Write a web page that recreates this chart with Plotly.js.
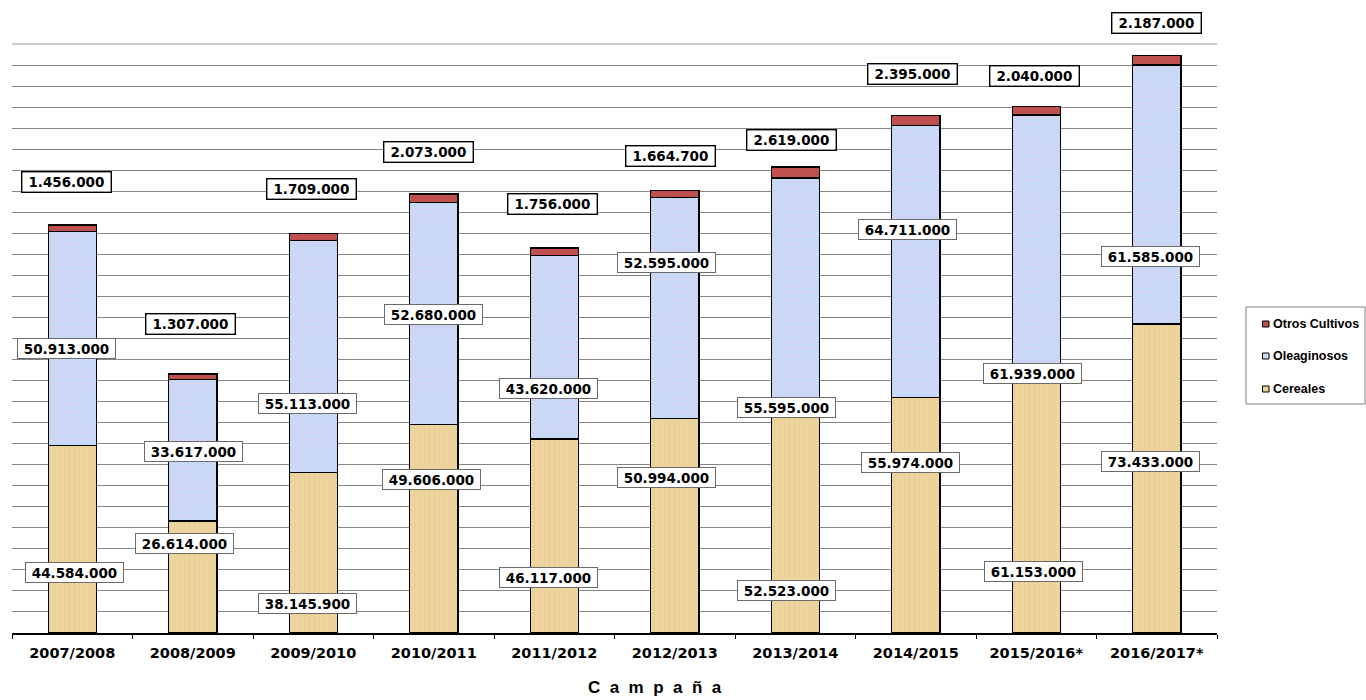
<!DOCTYPE html>
<html>
<head>
<meta charset="utf-8">
<script src="https://cdn.plot.ly/plotly-3.0.1.min.js"></script>
<style>html,body{margin:0;padding:0;background:#fff;}#chart{width:1366px;height:700px;}</style>
</head>
<body>
<div id="chart"></div>
<script>
// ---- data ----
var campanas = ["2007/2008","2008/2009","2009/2010","2010/2011","2011/2012","2012/2013","2013/2014","2014/2015","2015/2016*","2016/2017*"];
var cereales = [44584000, 26614000, 38145900, 49606000, 46117000, 50994000, 52523000, 55974000, 61153000, 73433000];
var oleaginosos = [50913000, 33617000, 55113000, 52680000, 43620000, 52595000, 55595000, 64711000, 61939000, 61585000];
var otros = [1456000, 1307000, 1709000, 2073000, 1756000, 1664700, 2619000, 2395000, 2040000, 2187000];
var seriesNames = ["Cereales", "Oleaginosos", "Otros Cultivos"];

// ---- label placement (layout: height in millions on the value scale + pixel x shift) ----
var labelYOtros = [107.3, 73.4, 105.5, 114.3, 102.0, 113.3, 117.1, 132.9, 132.5, 145.1];
var labelYOlea  = [67.7, 43.1, 54.5, 75.8, 58.0, 88.0, 53.5, 95.9, 61.6, 89.6];
var labelYCer   = [14.3, 21.2, 7.1, 36.4, 13.3, 37.0, 10.2, 40.5, 14.5, 40.8];
var shiftOtros = [-5.7, -1.9, -1.4, -5.4, -1.7, -4.4, -3.9, -3.2, -1.9, 0];
var shiftOlea  = [-5.7, 0.3, -6, 0.1, -5.7, -7.9, -8.4, -8.7, -3.5, -6.2];
var shiftCer   = [2.5, -7.9, -6.2, -2.7, -6.2, -7.9, -8.4, -5.5, -2.4, -6.5];

var Y_MAX = 140e6;
var colors = {cer: "#ECD49C", olea: "#C8D9F5", otros: "#C0504D"};

function fmt(v) {
  var s = Math.round(v).toString();
  return s.replace(/\B(?=(\d{3})+(?!\d))/g, ".");
}

var barLine = {color: "#000000", width: 1.3};
var traces = [
  {type: "bar", name: seriesNames[0], x: campanas, y: cereales,
   marker: {color: colors.cer, line: barLine, pattern: {shape: "|", fillmode: "overlay", fgcolor: "#DCC08A", size: 5, solidity: 0.12}}},
  {type: "bar", name: seriesNames[1], x: campanas, y: oleaginosos,
   marker: {color: colors.olea, line: barLine, pattern: {shape: ".", fillmode: "overlay", fgcolor: "#DCCDF0", size: 7, solidity: 0.3}}},
  {type: "bar", name: seriesNames[2], x: campanas, y: otros, marker: {color: colors.otros, line: barLine}}
];

var L = 12, R = 1217, T = 44, B = 633;
function pxX(px) { return (px - L) / (R - L); }
function pxY(py) { return (B - py) / (B - T); }

var annotations = [];
function addLabels(vals, ys, shifts, w, bc, bw) {
  for (var i = 0; i < campanas.length; i++) {
    annotations.push({
      x: campanas[i], xref: "x", xshift: shifts[i], xanchor: "center",
      y: ys[i] * 1e6 / Y_MAX, yref: "paper", yanchor: "middle",
      text: fmt(vals[i]), showarrow: false,
      font: {family: "DejaVu Sans, Verdana, sans-serif", size: 13.5, color: "#000", weight: "bold"},
      bgcolor: "#ffffff", bordercolor: bc, borderwidth: bw, borderpad: 2,
      width: w, height: 15, align: "center", valign: "middle"
    });
  }
}
addLabels(otros, labelYOtros, shiftOtros, 84, "#000000", 1.4);
addLabels(oleaginosos, labelYOlea, shiftOlea, 93, "#6a6a6a", 1);
addLabels(cereales, labelYCer, shiftCer, 93, "#6a6a6a", 1);

// axis title
annotations.push({
  xref: "paper", yref: "paper", x: pxX(655), y: pxY(687), xanchor: "center", yanchor: "middle",
  text: "C\u00a0 a\u00a0 m\u00a0 p\u00a0 a\u00a0 ñ\u00a0 a", showarrow: false,
  font: {family: "Liberation Sans, Arial, sans-serif", size: 17, color: "#000", weight: "bold"}
});

var shapes = [];
// top gridline at the end of the value range
shapes.push({type: "line", xref: "paper", yref: "paper", x0: 0, x1: 1, y0: 1, y1: 1, line: {color: "#9a9a9a", width: 1}, layer: "below"});

// manual legend
shapes.push({type: "rect", xref: "paper", yref: "paper", x0: pxX(1246), x1: pxX(1365), y0: pxY(404), y1: pxY(307),
  line: {color: "#808080", width: 1}, fillcolor: "#ffffff", layer: "above"});
var legItems = [
  {name: seriesNames[2], color: colors.otros, y: 324},
  {name: seriesNames[1], color: colors.olea, y: 356},
  {name: seriesNames[0], color: colors.cer, y: 389}
];
legItems.forEach(function (it) {
  shapes.push({type: "rect", xref: "paper", yref: "paper", x0: pxX(1262.5), x1: pxX(1269), y0: pxY(it.y + 3), y1: pxY(it.y - 3),
    line: {color: "#000000", width: 1}, fillcolor: it.color, layer: "above"});
  annotations.push({xref: "paper", yref: "paper", x: pxX(1270.5), y: pxY(it.y), xanchor: "left", yanchor: "middle",
    text: it.name, showarrow: false,
    font: {family: "Liberation Sans, Arial, sans-serif", size: 12.5, color: "#000", weight: "bold"}});
});

var layout = {
  width: 1366, height: 700,
  margin: {l: L, r: 1366 - R, t: T, b: 700 - B, pad: 0},
  paper_bgcolor: "#ffffff", plot_bgcolor: "#ffffff",
  barmode: "stack", bargap: 0.6,
  showlegend: false,
  font: {family: "DejaVu Sans, Verdana, sans-serif", color: "#000"},
  xaxis: {
    type: "category", showgrid: false, showline: true, linecolor: "#000", linewidth: 1.5,
    ticks: "outside", tickson: "boundaries", ticklen: 4, tickcolor: "#000", tickwidth: 1,
    ticklabelstandoff: 6,
    tickfont: {family: "DejaVu Sans, Verdana, sans-serif", size: 14.5, color: "#000", weight: "bold"},
    zeroline: false, fixedrange: true
  },
  yaxis: {
    range: [0, Y_MAX], dtick: 5e6, tick0: 0, showticklabels: false, ticks: "",
    showgrid: true, gridcolor: "#858585", gridwidth: 1, zeroline: false, showline: false, fixedrange: true
  },
  annotations: annotations,
  shapes: shapes
};

Plotly.newPlot("chart", traces, layout, {displayModeBar: false, staticPlot: true});
</script>
</body>
</html>
